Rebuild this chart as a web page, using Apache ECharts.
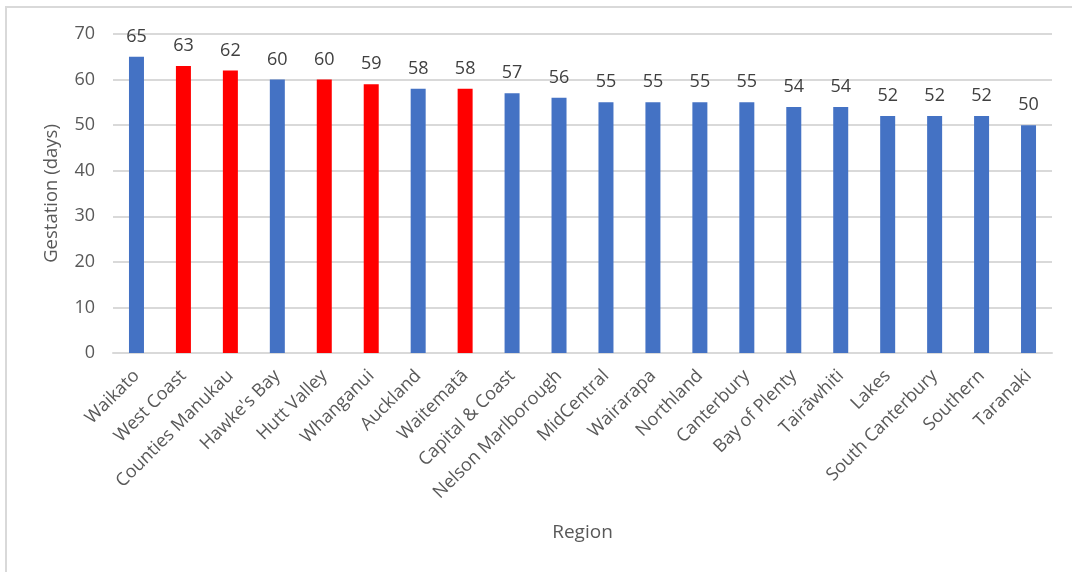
<!DOCTYPE html>
<html>
<head>
<meta charset="utf-8">
<script src="https://cdn.jsdelivr.net/npm/echarts@6/dist/echarts.min.js"></script>
<style>
html,body{margin:0;padding:0;background:#fff;}
#chart{width:1072px;height:572px;}
</style>
</head>
<body>
<div id="chart"></div>
<script>
const categories = ["Waikato","West Coast","Counties Manukau","Hawke's Bay","Hutt Valley","Whanganui","Auckland","Waitematā","Capital & Coast","Nelson Marlborough","MidCentral","Wairarapa","Northland","Canterbury","Bay of Plenty","Tairāwhiti","Lakes","South Canterbury","Southern","Taranaki"];
const values = [65,63,62,60,60,59,58,58,57,56,55,55,55,55,54,54,52,52,52,50];
const highlighted = [false,true,true,false,true,true,false,true,false,false,false,false,false,false,false,false,false,false,false,false];
const yTicks = [0,10,20,30,40,50,60,70];

const BLUE = '#4472C4', RED = '#FF0000';
const FONT = 'Open Sans';
const chart = echarts.init(document.getElementById('chart'), null, {renderer:'canvas'});
chart.setOption({
  animation:false,
  backgroundColor:'#fff',
  textStyle:{fontFamily:FONT},
  graphic:[{type:'rect',shape:{x:6,y:7,width:1100,height:600},style:{fill:'none',stroke:'#d9d9d9',lineWidth:2},silent:true,z:-10}],
  grid:{left:113,right:20,top:34,bottom:219,containLabel:false},
  xAxis:{
    type:'category',
    data:categories,
    axisLine:{show:true,lineStyle:{color:'#d9d9d9',width:2}},
    axisTick:{show:false},
    axisLabel:{rotate:45,interval:0,margin:20,fontSize:18,color:'#595959',fontFamily:FONT},
    name:'Region',
    nameLocation:'middle',
    nameGap:170,
    nameTextStyle:{fontSize:19,color:'#595959',fontFamily:FONT}
  },
  yAxis:{
    type:'value',
    min:yTicks[0],max:yTicks[yTicks.length-1],interval:10,
    axisLine:{show:false},
    axisTick:{show:false},
    splitLine:{lineStyle:{color:'#d9d9d9',width:2}},
    axisLabel:{margin:18,fontSize:18,color:'#595959',fontFamily:FONT},
    name:'Gestation (days)',
    nameLocation:'middle',
    nameGap:52,
    nameTextStyle:{fontSize:18.5,color:'#595959',fontFamily:FONT}
  },
  series:[{
    type:'bar',
    barWidth:15,
    data:values.map((v,i)=>({value:v,itemStyle:{color:highlighted[i]?RED:BLUE}})),
    label:{show:true,position:'top',distance:11,fontSize:18,color:'#404040',fontFamily:FONT}
  }]
});
</script>
</body>
</html>
